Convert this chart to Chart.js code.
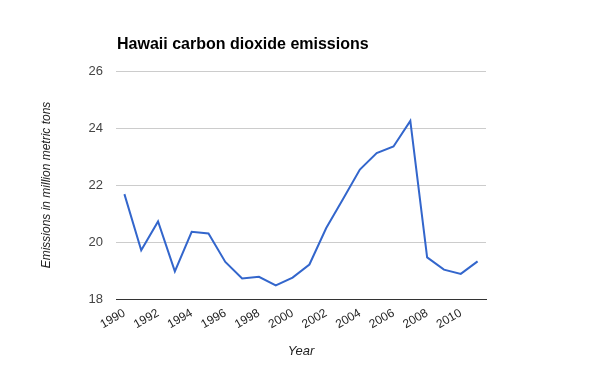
<!DOCTYPE html>
<html>
<head>
<meta charset="utf-8">
<script src="https://cdn.jsdelivr.net/npm/chart.js@4"></script>
<style>
html,body{margin:0;padding:0;background:#fff;}
#wrap{width:600px;height:371px;}
</style>
</head>
<body>
<div id="wrap"><canvas id="c" width="600" height="371"></canvas></div>
<script>
const years = ["1990","1991","1992","1993","1994","1995","1996","1997","1998","1999","2000","2001","2002","2003","2004","2005","2006","2007","2008","2009","2010","2011"];
const emissions = [21.68,19.71,20.72,18.97,20.36,20.30,19.30,18.72,18.78,18.48,18.75,19.21,20.49,21.51,22.54,23.12,23.35,24.25,19.46,19.03,18.88,19.32];
const yTicks = [18,20,22,24,26];
const titleText = "Hawaii carbon dioxide emissions";
const yTitle = "Emissions in million metric tons";
const xTitle = "Year";

const FONT = "Arial, 'Liberation Sans', sans-serif";

const titlePlugin = {
  id: 'leftTitle',
  afterDraw(chart) {
    const ctx = chart.ctx;
    ctx.save();
    ctx.font = "bold 16px " + FONT;
    ctx.fillStyle = "#000";
    ctx.textBaseline = "middle";
    ctx.textAlign = "left";
    ctx.fillText(titleText, chart.chartArea.left + 1, 45);
    ctx.restore();
  }
};

new Chart(document.getElementById('c'), {
  type: 'line',
  data: {
    labels: years,
    datasets: [{
      data: emissions,
      borderColor: '#3366cc',
      borderWidth: 2,
      pointRadius: 0,
      tension: 0,
      fill: false
    }]
  },
  options: {
    responsive: false,
    animation: false,
    events: [],
    layout: { padding: { left: 0, right: 114, top: 71, bottom: 0 } },
    plugins: { legend: { display: false }, tooltip: { enabled: false } },
    scales: {
      x: {
        type: 'category',
        offset: true,
        grid: { display: false, drawTicks: false },
        border: { display: true, color: '#333', width: 1 },
        ticks: {
          autoSkip: false,
          minRotation: 30,
          maxRotation: 30,
          padding: 7,
          color: '#222',
          font: { family: FONT, size: 12 },
          callback: function(v, i) { return i % 2 === 0 ? years[i] : ''; }
        },
        title: {
          display: true,
          text: xTitle,
          color: '#222',
          font: { family: FONT, size: 13, style: 'italic' },
          padding: { top: 0, bottom: 12 }
        },
        afterFit(scale) { scale.height = 72; }
      },
      y: {
        min: 18,
        max: 26,
        afterBuildTicks(scale) { scale.ticks = yTicks.map(v => ({ value: v })); },
        grid: { color: '#cccccc', drawTicks: false },
        border: { display: false },
        ticks: {
          padding: 13,
          color: '#444',
          font: { family: FONT, size: 13 }
        },
        title: {
          display: true,
          text: yTitle,
          color: '#222',
          font: { family: FONT, size: 12, style: 'italic' },
          padding: { top: 39, bottom: 0 }
        },
        afterFit(scale) { scale.width = 116; }
      }
    }
  },
  plugins: [titlePlugin]
});
</script>
</body>
</html>
